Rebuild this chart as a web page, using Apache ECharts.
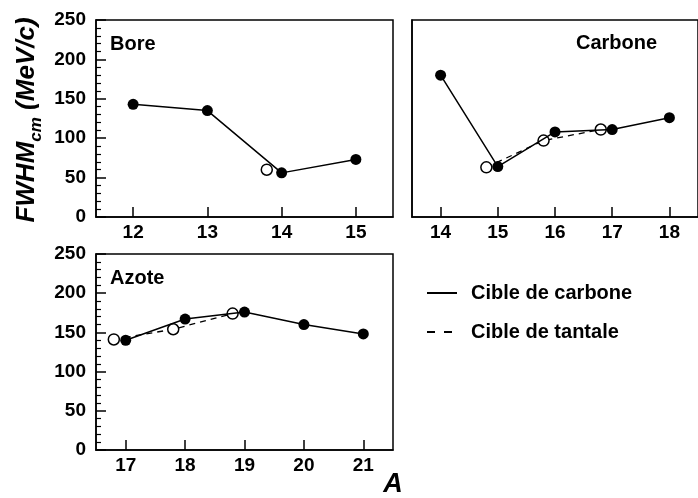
<!DOCTYPE html>
<html><head><meta charset="utf-8">
<script src="https://cdn.jsdelivr.net/npm/echarts@6/dist/echarts.min.js"></script>
<style>html,body{margin:0;padding:0;background:#fff}#c{width:698px;height:498px}</style>
</head><body><div id="c"></div>
<script>
// Bore panel
const boreCarbonA = [12, 13, 14, 15];
const boreCarbonW = [143, 135, 56, 73];
const boreTantalA = [13.8];
const boreTantalW = [60];
const boreTicks = [12, 13, 14, 15];
// Carbone panel
const carbCarbonA = [14, 15, 16, 17, 18];
const carbCarbonW = [180, 64, 108, 111, 126];
const carbTantalA = [14.8, 15.8, 16.8];
const carbTantalW = [63, 97, 111];
const carbTicks = [14, 15, 16, 17, 18];
// Azote panel
const azCarbonA = [17, 18, 19, 20, 21];
const azCarbonW = [140, 167, 176, 160, 148];
const azTantalA = [16.8, 17.8, 18.8];
const azTantalW = [141, 154, 174];
const azTicks = [17, 18, 19, 20, 21];
const yTicks = [0, 50, 100, 150, 200, 250];

const FONT = '"Liberation Sans", Arial, sans-serif';
const pairs = (xs, ys) => xs.map((x, i) => [x, ys[i]]);

function xAxis(idx, min, max, ticks) {
  return {
    type: 'value', gridIndex: idx, min: min, max: max,
    axisLine: {show: true, onZero: false, lineStyle: {color: '#000', width: 1.5}},
    axisTick: {show: true, inside: true, length: 10, lineStyle: {color: '#000', width: 1.5}, customValues: ticks},
    axisLabel: {show: true, margin: 6, color: '#000', fontFamily: FONT, fontWeight: 'bold', fontSize: 19, customValues: ticks},
    splitLine: {show: false}
  };
}
function yAxis(idx, showLabels) {
  return {
    type: 'value', gridIndex: idx, min: 0, max: 250, interval: 50,
    axisLine: {show: true, lineStyle: {color: '#000', width: 1.5}},
    axisTick: {show: showLabels, inside: true, length: 10, lineStyle: {color: '#000', width: 1.5}},
    minorTick: {show: showLabels, splitNumber: 5, length: 5, lineStyle: {color: '#000', width: 1.2}},
    axisLabel: {show: showLabels, margin: 10, color: '#000', fontFamily: FONT, fontWeight: 'bold', fontSize: 19,
      customValues: yTicks},
    splitLine: {show: false}
  };
}
function tantal(idx, xs, ys) {
  return {
    type: 'line', name: 'Cible de tantale', xAxisIndex: idx, yAxisIndex: idx,
    data: pairs(xs, ys), symbol: 'circle', symbolSize: 11, z: 2,
    lineStyle: {color: '#000', width: 1.3, type: [6, 5]},
    itemStyle: {color: '#fff', borderColor: '#000', borderWidth: 1.5},
    animation: false
  };
}
function carbon(idx, xs, ys) {
  return {
    type: 'line', name: 'Cible de carbone', xAxisIndex: idx, yAxisIndex: idx,
    data: pairs(xs, ys), symbol: 'circle', symbolSize: 11, z: 3,
    lineStyle: {color: '#000', width: 1.5},
    itemStyle: {color: '#000', borderColor: '#000', borderWidth: 0},
    animation: false
  };
}
const gridStyle = {show: true, borderColor: '#000', borderWidth: 1.5, backgroundColor: 'transparent'};
const labelText = (x, y, t) => ({type: 'text', x: x, y: y,
  style: {text: t, fill: '#000', font: 'bold 20px ' + FONT, textVerticalAlign: 'middle'}});

const chart = echarts.init(document.getElementById('c'), null, {renderer: 'canvas'});
chart.setOption({
  animation: false,
  backgroundColor: '#fff',
  grid: [
    Object.assign({left: 96, top: 20, width: 297, height: 197}, gridStyle),
    Object.assign({left: 412, top: 20, width: 298, height: 197}, gridStyle),
    Object.assign({left: 96, top: 254, width: 297, height: 196}, gridStyle)
  ],
  xAxis: [xAxis(0, 11.5, 15.5, boreTicks), xAxis(1, 13.5, 18.5, carbTicks), xAxis(2, 16.5, 21.5, azTicks)],
  yAxis: [yAxis(0, true), yAxis(1, false), yAxis(2, true)],
  series: [
    tantal(0, boreTantalA, boreTantalW), carbon(0, boreCarbonA, boreCarbonW),
    tantal(1, carbTantalA, carbTantalW), carbon(1, carbCarbonA, carbCarbonW),
    tantal(2, azTantalA, azTantalW), carbon(2, azCarbonA, azCarbonW)
  ],
  graphic: [
    labelText(110, 44, 'Bore'),
    labelText(576, 43, 'Carbone'),
    labelText(110, 278, 'Azote'),
    {type: 'line', shape: {x1: 427, y1: 293, x2: 457, y2: 293}, style: {stroke: '#000', lineWidth: 2}},
    labelText(471, 293, 'Cible de carbone'),
    {type: 'line', shape: {x1: 427, y1: 332, x2: 435, y2: 332}, style: {stroke: '#000', lineWidth: 2}},
    {type: 'line', shape: {x1: 444, y1: 332, x2: 452, y2: 332}, style: {stroke: '#000', lineWidth: 2}},
    labelText(471, 332, 'Cible de tantale'),
    {type: 'text', x: 393, y: 485, style: {text: 'A', fill: '#000', font: 'italic bold 27px ' + FONT,
      textAlign: 'center', textVerticalAlign: 'middle'}},
    {type: 'text', x: 27, y: 120, rotation: Math.PI / 2,
      style: {text: '{a|FWHM}{b|cm}{a| (MeV/c)}', fill: '#000', textAlign: 'center', textVerticalAlign: 'middle',
        rich: {
          a: {font: 'italic bold 26px ' + FONT, fill: '#000', verticalAlign: 'middle'},
          b: {font: 'italic bold 17px ' + FONT, fill: '#000', verticalAlign: 'bottom', padding: [18, 0, 0, 0]}
        }}}
  ]
});
</script></body></html>
